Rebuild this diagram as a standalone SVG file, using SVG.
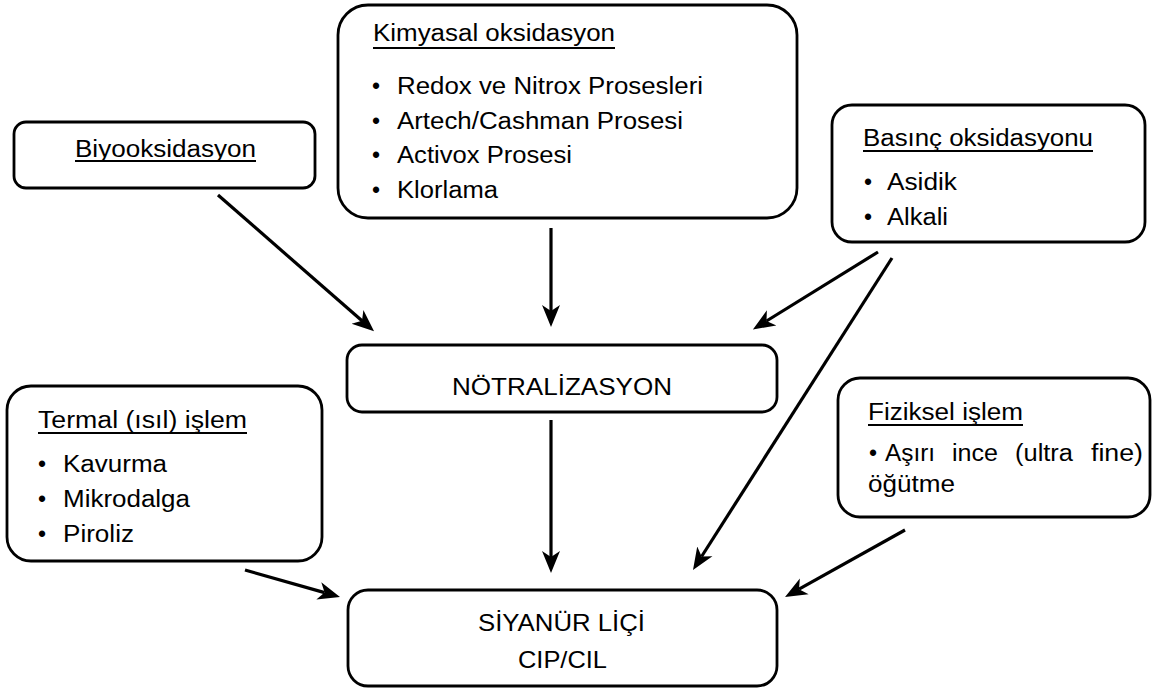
<svg xmlns="http://www.w3.org/2000/svg" width="1154" height="688" viewBox="0 0 1154 688">
<style>
.box{fill:#fff;stroke:#000;stroke-width:2.8}
.t{font-family:"Liberation Sans",Arial,sans-serif;font-size:23px;fill:#000}
.c{text-anchor:middle}
.ul{stroke:#000;stroke-width:1.8}
.arr{stroke:#000;stroke-width:3.2;fill:none;marker-end:url(#ah)}
</style>
<defs>
<marker id="ah" markerUnits="userSpaceOnUse" markerWidth="26" markerHeight="22" refX="6" refY="11" orient="auto" viewBox="0 0 26 22">
<path d="M0,2 L22,11 L0,20 L6,11 Z" fill="#000"/>
</marker>
</defs>
<rect width="1154" height="688" fill="#fff"/>

<g id="biyooksidasyon">
<rect class="box" x="14" y="122" width="301" height="66" rx="12"/>
<text class="t" x="75" y="157" textLength="181" lengthAdjust="spacingAndGlyphs">Biyooksidasyon</text>
<line class="ul" x1="75" y1="161" x2="256" y2="161"/>
</g>

<g id="kimyasal">
<rect class="box" x="338" y="5" width="459" height="213" rx="30"/>
<text class="t" x="373" y="41" textLength="242" lengthAdjust="spacingAndGlyphs">Kimyasal oksidasyon</text>
<line class="ul" x1="373" y1="48" x2="615" y2="48"/>
<text class="t" x="372" y="94">•</text>
<text class="t" x="397" y="94" textLength="306" lengthAdjust="spacingAndGlyphs">Redox ve Nitrox Prosesleri</text>
<text class="t" x="372" y="129">•</text>
<text class="t" x="397" y="129" textLength="286" lengthAdjust="spacingAndGlyphs">Artech/Cashman Prosesi</text>
<text class="t" x="372" y="163">•</text>
<text class="t" x="397" y="163" textLength="175" lengthAdjust="spacingAndGlyphs">Activox Prosesi</text>
<text class="t" x="372" y="198">•</text>
<text class="t" x="397" y="198" textLength="101" lengthAdjust="spacingAndGlyphs">Klorlama</text>
</g>

<g id="basinc">
<rect class="box" x="832" y="105" width="313" height="137" rx="20"/>
<text class="t" x="863" y="146" textLength="230" lengthAdjust="spacingAndGlyphs">Basınç oksidasyonu</text>
<line class="ul" x1="863" y1="151" x2="1093" y2="151"/>
<text class="t" x="864" y="190">•</text>
<text class="t" x="887" y="190" textLength="70" lengthAdjust="spacingAndGlyphs">Asidik</text>
<text class="t" x="864" y="225">•</text>
<text class="t" x="887" y="225" textLength="61" lengthAdjust="spacingAndGlyphs">Alkali</text>
</g>

<g id="notralizasyon">
<rect class="box" x="347" y="345" width="430" height="67" rx="15"/>
<text class="t" x="452" y="395" textLength="220" lengthAdjust="spacingAndGlyphs">NÖTRALİZASYON</text>
</g>

<g id="termal">
<rect class="box" x="7" y="386" width="315" height="175" rx="24"/>
<text class="t" x="38" y="428" textLength="209" lengthAdjust="spacingAndGlyphs">Termal (ısıl) işlem</text>
<line class="ul" x1="38" y1="433" x2="247" y2="433"/>
<text class="t" x="38" y="472">•</text>
<text class="t" x="63" y="472" textLength="104" lengthAdjust="spacingAndGlyphs">Kavurma</text>
<text class="t" x="38" y="507">•</text>
<text class="t" x="63" y="507" textLength="127" lengthAdjust="spacingAndGlyphs">Mikrodalga</text>
<text class="t" x="38" y="542">•</text>
<text class="t" x="63" y="542" textLength="71" lengthAdjust="spacingAndGlyphs">Piroliz</text>
</g>

<g id="fiziksel">
<rect class="box" x="838" y="378" width="312" height="139" rx="22"/>
<text class="t" x="868" y="420" textLength="155" lengthAdjust="spacingAndGlyphs">Fiziksel işlem</text>
<line class="ul" x1="868" y1="425" x2="1023" y2="425"/>
<text class="t" x="869" y="461">•</text>
<text class="t" x="885" y="461" textLength="50" lengthAdjust="spacingAndGlyphs">Aşırı</text>
<text class="t" x="952" y="461" textLength="46" lengthAdjust="spacingAndGlyphs">ince</text>
<text class="t" x="1015" y="461" textLength="58" lengthAdjust="spacingAndGlyphs">(ultra</text>
<text class="t" x="1091" y="461" textLength="52" lengthAdjust="spacingAndGlyphs">fine)</text>
<text class="t" x="868" y="492" textLength="87" lengthAdjust="spacingAndGlyphs">öğütme</text>
</g>

<g id="siyanur">
<rect class="box" x="348" y="590" width="429" height="96" rx="20"/>
<text class="t c" x="561.5" y="631" style="font-size:24px" textLength="167" lengthAdjust="spacingAndGlyphs">SİYANÜR LİÇİ</text>
<text class="t c" x="562.5" y="668" style="font-size:24px" textLength="89" lengthAdjust="spacingAndGlyphs">CIP/CIL</text>
</g>

<g id="connectors">
<line class="arr" x1="218" y1="195" x2="362" y2="320.8"/>
<line class="arr" x1="551" y1="228" x2="551" y2="311"/>
<line class="arr" x1="878" y1="252" x2="766.5" y2="321.0"/>
<line class="arr" x1="892" y1="258" x2="701.6" y2="556.5"/>
<line class="arr" x1="551" y1="420" x2="551" y2="557"/>
<line class="arr" x1="245" y1="570" x2="324.6" y2="592.6"/>
<line class="arr" x1="905" y1="530" x2="799" y2="589.2"/>
</g>
</svg>
